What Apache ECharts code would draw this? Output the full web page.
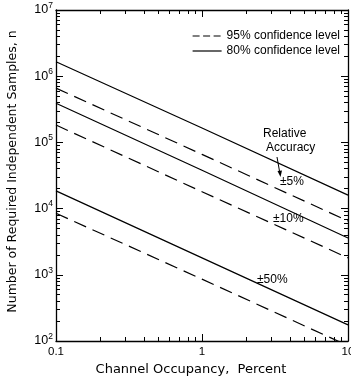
<!DOCTYPE html>
<html><head><meta charset="utf-8">
<script src="https://cdn.jsdelivr.net/npm/echarts@6/dist/echarts.min.js"></script>
<style>html,body{margin:0;padding:0;background:#fff}#c{width:351px;height:381px}</style>
</head><body><div id="c"></div>
<script>
// Channel occupancy (percent)
var occupancy = [0.1, 1, 10];
// 80% confidence level (solid)
var s80_5  = [1650000, 165000, 16000];
var s80_10 = [390000, 38000, 3600];
var s80_50 = [18500, 1800, 175];
// 95% confidence level (dashed)
var s95_5  = [660000, 66000, 6500];
var s95_10 = [183000, 18000, 1800];
var s95_50 = [8500, 860, 85];
// tick labels
var xTickLabels = [0.1, 1, 10];
var yTickLabels = [100, 1000, 10000, 100000, 1000000, 10000000];
var xMinor = [], yMinor = [];
[0.1, 1].forEach(function (d) { for (var k = 2; k <= 9; k++) xMinor.push(Math.log10(d * k)); });
[100, 1000, 10000, 100000, 1000000].forEach(function (d) { for (var k = 2; k <= 9; k++) yMinor.push(Math.log10(d * k)); });
var xMajorLog = xTickLabels.map(function (v) { return Math.log10(v); });
var yMajorLog = yTickLabels.map(function (v) { return Math.log10(v); });

var FONT = 'Liberation Sans';
var NFONT = 'DejaVu Sans';
function pairs(ys) { return occupancy.map(function (x, i) { return [x, ys[i]]; }); }
function mk(name, ys, dashed) {
  return {
    type: 'line', name: name, data: pairs(ys), symbol: 'none', silent: true,
    xAxisIndex: 0, yAxisIndex: 0, clip: true,
    lineStyle: { color: '#000', width: 1.2, type: dashed ? [13, 7] : 'solid' },
    itemStyle: { color: '#000' }
  };
}
var chart = echarts.init(document.getElementById('c'), null, { renderer: 'canvas' });
var axLine = { show: true, onZero: false, lineStyle: { color: '#000', width: 1.3 } };
function tickAxis(pos, min, max, ticks, len, withLine) {
  return {
    type: 'value', position: pos, min: min, max: max,
    axisLine: withLine ? axLine : { show: false, onZero: false }, splitLine: { show: false }, axisLabel: { show: false },
    axisTick: { show: true, inside: true, length: len, customValues: ticks, lineStyle: { color: '#000', width: 1 } }
  };
}
chart.setOption({
  animation: false,
  backgroundColor: '#fff',
  grid: { left: 56, right: 3, top: 10, bottom: 40, containLabel: false, outerBoundsMode: 'none' },
  legend: {
    orient: 'vertical', left: 187, top: 25, itemWidth: 29, itemHeight: 10, itemGap: 3,
    itemStyle: { opacity: 0 },
    data: [
      { name: '95% confidence level', lineStyle: { type: [7, 3.5], width: 1.2, color: '#000' } },
      { name: '80% confidence level', lineStyle: { type: 'solid', width: 1.2, color: '#000' } }
    ],
    textStyle: { color: '#000', fontFamily: FONT, fontSize: 12 }, selectedMode: false
  },
  xAxis: [
    {
      type: 'log', logBase: 10, position: 'bottom', min: 0.1, max: 10,
      axisLine: axLine, splitLine: { show: false }, axisTick: { show: false },
      axisLabel: { color: '#000', fontFamily: FONT, fontSize: 11.5, margin: 5,
        formatter: function (v) { return String(+(+v).toPrecision(3)); } },
      name: 'Channel Occupancy,  Percent', nameLocation: 'middle', nameGap: 18,
      nameTextStyle: { color: '#000', fontFamily: NFONT, fontSize: 13, padding: [0, 22, 0, 0] }
    },
    tickAxis('bottom', -1, 1, xMinor, 4),
    tickAxis('bottom', -1, 1, xMajorLog, 7),
    tickAxis('top', -1, 1, xMinor, 4, true),
    tickAxis('top', -1, 1, xMajorLog, 7)
  ],
  yAxis: [
    {
      type: 'log', logBase: 10, position: 'left', min: 100, max: 10000000,
      axisLine: axLine, splitLine: { show: false }, axisTick: { show: false },
      axisLabel: { color: '#000', fontFamily: FONT, margin: 3,
        formatter: function (v) { return '{b|10}{e|' + Math.round(Math.log10(v)) + '}'; },
        rich: { b: { fontSize: 12.5, fontFamily: FONT, color: '#000' }, e: { fontSize: 8.5, fontFamily: FONT, color: '#000', padding: [0, 0, 9, 0] } } },
      name: 'Number of Required Independent Samples, n', nameLocation: 'middle', nameGap: 37,
      nameTextStyle: { color: '#000', fontFamily: NFONT, fontSize: 12.5, padding: [0, 0, 0, 8] }
    },
    tickAxis('left', 2, 7, yMinor, 4),
    tickAxis('left', 2, 7, yMajorLog, 7),
    tickAxis('right', 2, 7, yMinor, 4, true),
    tickAxis('right', 2, 7, yMajorLog, 7)
  ],
  series: [
    mk('80% confidence level', s80_5, false),
    mk('95% confidence level', s95_5, true),
    mk('80% confidence level', s80_10, false),
    mk('95% confidence level', s95_10, true),
    mk('80% confidence level', s80_50, false),
    mk('95% confidence level', s95_50, true)
  ],
  graphic: [
    { type: 'text', left: 263, top: 128, style: { text: 'Relative', font: '12px "Liberation Sans"', fill: '#000' } },
    { type: 'text', left: 266, top: 142, style: { text: 'Accuracy', font: '12px "Liberation Sans"', fill: '#000' } },
    { type: 'line', shape: { x1: 277, y1: 157, x2: 280, y2: 174 }, style: { stroke: '#000', lineWidth: 1 } },
    { type: 'polygon', shape: { points: [[277.5, 171], [282, 170.5], [280.5, 177]] }, style: { fill: '#000' } },
    { type: 'text', left: 280, top: 176, style: { text: '±5%', font: '12px "Liberation Sans"', fill: '#000' } },
    { type: 'text', left: 273, top: 213, style: { text: '±10%', font: '12px "Liberation Sans"', fill: '#000' } },
    { type: 'text', left: 257, top: 274, style: { text: '±50%', font: '12px "Liberation Sans"', fill: '#000' } }
  ]
});
</script></body></html>
